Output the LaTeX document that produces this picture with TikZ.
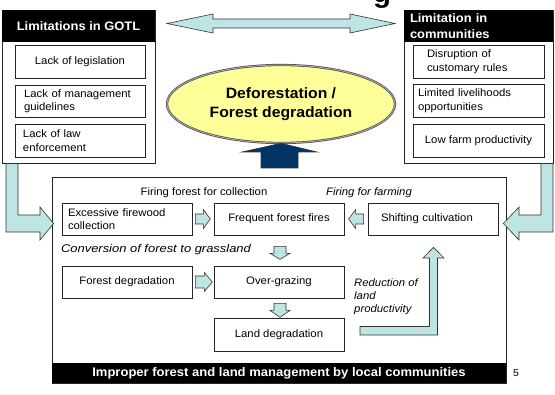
\documentclass[tikz,border=0pt]{standalone}
\usepackage{fontspec}
\usepackage{graphicx}
\setmainfont{Liberation Sans}[FakeStretch=1.05]
\usetikzlibrary{calc,shapes.geometric}
\definecolor{cyanfill}{RGB}{190,228,228}
\definecolor{navyblue}{RGB}{0,51,102}
\definecolor{ellfill}{RGB}{255,255,153}
\newcommand\fs[2]{\fontsize{#1}{#2}\selectfont}
\tikzset{
  frame/.style={draw=black!85, line width=0.7pt, fill=white, inner sep=0pt},
  hdr/.style={fill=black, text=white, inner sep=0pt, font=\bfseries\fs{12.3}{16}},
  box/.style={draw=black!85, line width=0.7pt, fill=white, inner sep=0pt, font=\fs{10.8}{13.5}},
  lbox/.style={box, align=left},
  cbox/.style={box, align=center},
  lbl/.style={inner sep=0pt, font=\fs{10.8}{13}},
  ilbl/.style={inner sep=0pt, font=\itshape\fs{10.8}{13}},
  blk/.style={draw=black!80, line width=0.6pt, fill=cyanfill, line join=miter},
}
\begin{document}
\begin{tikzpicture}[x=1pt, y=-1pt]
\useasboundingbox (0,0) rectangle (555,395);
\clip (0,0) rectangle (555,395);
\fill[white] (0,0) rectangle (555,395);

% cut-off title
\node[inner sep=0pt, anchor=base, font=\bfseries\fs{28}{28}] (ttl) at (382,2.5) {g};

% ---- left panel
\node[frame, minimum width=153pt, minimum height=153pt] (gotl) at (78.5,86.5) {};
\node[hdr, minimum width=153pt, minimum height=32pt] (gotlh) at (78.5,26) {Limitations in GOTL};
\node[cbox, minimum width=130pt, minimum height=33pt] (l1) at (80,61.5) {Lack of legislation};
\node[lbox, minimum height=32pt, inner xsep=9pt, text width=112pt] (l2) at (80,101) {Lack of management\\guidelines};
\node[lbox, minimum height=33pt, inner xsep=8pt, text width=114pt] (l3) at (80,140.5) {Lack of law\\enforcement};

% ---- right panel
\node[frame, minimum width=149pt, minimum height=153pt] (comm) at (478.5,86.5) {};
\node[hdr, minimum height=32pt, inner xsep=6pt, text width=137pt, align=left] (commh) at (478.5,26) {Limitation in\\communities};
\node[lbox, minimum height=33pt, inner xsep=14pt, text width=103pt] (r1) at (478.5,61.5) {Disruption of\\customary rules};
\node[lbox, minimum height=33pt, inner xsep=5pt, text width=121pt] (r2) at (478.5,100.5) {Limited livelihoods\\opportunities};
\node[cbox, minimum width=131pt, minimum height=33pt] (r3) at (478.5,140.5) {Low farm productivity};

% ---- double arrow between panels
\draw[blk] (167,23.5) -- (213,14) -- (213,19) -- (350,19) -- (350,14) -- (395,23.5)
  -- (350,33) -- (350,28) -- (213,28) -- (213,33) -- cycle;

% ---- central ellipse
\node[draw=black!75, line width=0.6pt, double=black!35, double distance=1pt,
      fill=ellfill, ellipse, minimum width=228pt, minimum height=78pt, inner sep=0pt,
      font=\bfseries\fs{15}{19}, align=center] (defo) at (281,104) {Deforestation /\\Forest degradation};

% ---- lower panel
\node[frame, minimum width=454pt, minimum height=206pt] (low) at (279,280) {};
\node[hdr, minimum width=454pt, minimum height=20pt, font=\bfseries\fs{12.4}{14}] (lowh) at (279,373) {Improper forest and land management by local communities};

% navy up arrow
\draw[draw=black!80, line width=0.6pt, fill=navyblue] (defo.south) -- (317,152) -- (298,152) -- (298,168)
  -- (261,168) -- (261,152) -- (242,152) -- cycle;

\node[lbox, minimum height=32pt, inner xsep=6pt, text width=118pt] (exc) at (127,219) {Excessive firewood\\collection};
\node[cbox, minimum width=130pt, minimum height=32pt] (freq) at (279,219) {Frequent forest fires};
\node[lbox, minimum height=32pt, inner xsep=13pt, text width=104pt] (shift) at (433,219) {Shifting cultivation};
\node[cbox, minimum width=130pt, minimum height=32pt] (fdeg) at (127,282) {Forest degradation};
\node[cbox, minimum width=130pt, minimum height=32pt] (over) at (279,282) {Over-grazing};
\node[cbox, minimum width=130pt, minimum height=33pt] (land) at (279,334.5) {Land degradation};

\node[lbl] (fir1) at (204,193) {Firing forest for collection};
\node[ilbl] (fir2) at (369,193) {Firing for farming};
\node[ilbl, font=\itshape\fs{11.2}{13}] (conv) at (156,250) {\scalebox{1.1}[1]{Conversion of forest to grassland}};
\node[ilbl, anchor=west, align=left] (red) at (354,297) {Reduction of\\land\\productivity};
\node[lbl, font=\fs{10}{12}] (pg) at (516,373) {5};

% small block arrows
\draw[blk] ($(exc.east)+(3,-5)$) -- ++(8,0) -- ++(0,-4.5) -- ++(7,9.5) -- ++(-7,9.5) -- ++(0,-4.5) -- ++(-8,0) -- cycle;
\draw[blk] ($(shift.west)+(-4,-5)$) -- ++(-8,0) -- ++(0,-4.5) -- ++(-7,9.5) -- ++(7,9.5) -- ++(0,-4.5) -- ++(8,0) -- cycle;
\draw[blk] ($(freq.south)+(-5,11)$) -- ++(0,7) -- ++(-4,0) -- ++(10,6) -- ++(10,-6) -- ++(-4,0) -- ++(0,-7) -- cycle;
\draw[blk] ($(fdeg.east)+(3,-6)$) -- ++(9,0) -- ++(0,-3.5) -- ++(8,9.5) -- ++(-8,9.5) -- ++(0,-3.5) -- ++(-9,0) -- cycle;
\draw[blk] ($(over.south)+(-5,5)$) -- ++(0,7) -- ++(-4,0) -- ++(10,7) -- ++(10,-7) -- ++(-4,0) -- ++(0,-7) -- cycle;

% L arrow land -> shifting
\draw[blk] (360,326.5) -- (429.5,326.5) -- (429.5,258) -- (423,258) -- ($(shift.south)+(0.5,12)$)
  -- (444,258) -- (437.5,258) -- (437.5,335) -- (360,335) -- cycle;

% big L arrows from panels
\draw[blk] (6,163.5) -- (18,163.5) -- (18,215) -- (40,215) -- (40,207) -- ($(exc.west)+(-8,4.5)$)
  -- (40,240) -- (40,232) -- (6,232) -- cycle;
\draw[blk] (553,163.5) -- (541,163.5) -- (541,215) -- (519,215) -- (519,207) -- ($(shift.east)+(5,4.5)$)
  -- (519,240) -- (519,232) -- (553,232) -- cycle;
\end{tikzpicture}
\end{document}
